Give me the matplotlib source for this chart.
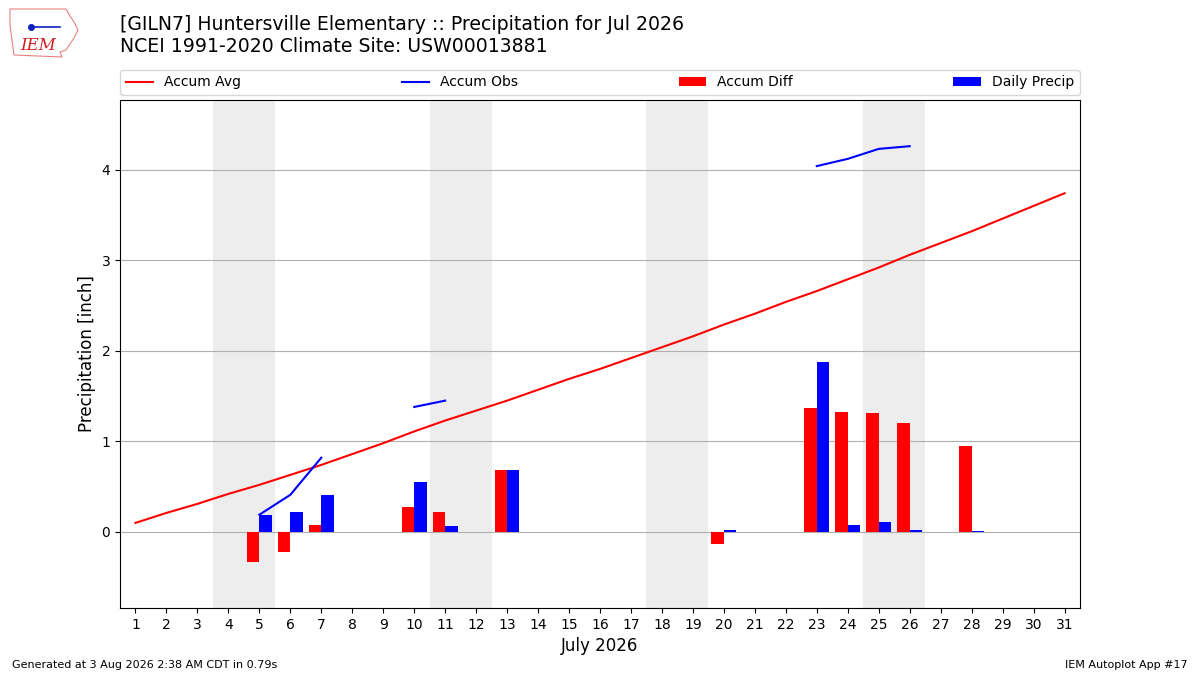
import numpy as np
import matplotlib
matplotlib.use("Agg")
import matplotlib.pyplot as plt
from matplotlib.patches import Polygon

days = list(range(1, 32))
accum_avg = [0.10, 0.21, 0.31, 0.42, 0.52, 0.63, 0.74, 0.86, 0.98, 1.11,
             1.23, 1.34, 1.45, 1.57, 1.69, 1.80, 1.92, 2.04, 2.16, 2.29,
             2.41, 2.54, 2.66, 2.79, 2.92, 3.06, 3.19, 3.32, 3.46, 3.60, 3.74]
nan = float("nan")
accum_obs = [nan, nan, nan, nan, 0.19, 0.41, 0.82, nan, nan, 1.38,
             1.45, nan, nan, nan, nan, nan, nan, nan, nan, nan,
             nan, nan, 4.04, 4.12, 4.23, 4.26, nan, nan, nan, nan, nan]
diff_days = [5, 6, 7, 10, 11, 13, 20, 23, 24, 25, 26, 28]
accum_diff = [-0.33, -0.22, 0.08, 0.27, 0.22, 0.68, -0.13, 1.37, 1.33, 1.31, 1.20, 0.95]
precip_days = [5, 6, 7, 10, 11, 13, 20, 23, 24, 25, 26, 28]
daily_precip = [0.19, 0.22, 0.41, 0.55, 0.07, 0.68, 0.02, 1.88, 0.08, 0.11, 0.02, 0.01]
weekends = [(4, 5), (11, 12), (18, 19), (25, 26)]

fig = plt.figure(figsize=(12, 6.75), dpi=100)
ax = fig.add_axes([0.1, 1 - 608 / 675, 0.8, 508 / 675])

for a, b in weekends:
    ax.axvspan(a - 0.5, b + 0.5, color="#ededed", zorder=0, lw=0)

ax.plot(days, accum_avg, color="r", lw=1.5, label="Accum Avg", zorder=3)
ax.plot(days, accum_obs, color="b", lw=1.5, label="Accum Obs", zorder=3)
ax.bar(diff_days, accum_diff, width=-0.4, align="edge", color="r", label="Accum Diff", zorder=2)
ax.bar(precip_days, daily_precip, width=0.4, align="edge", color="b", label="Daily Precip", zorder=2)

ax.set_xlim(0.5, 31.5)
ax.set_ylim(-0.84, 4.77)
ax.set_xticks(days)
ax.set_xticklabels([str(d) for d in days])
ax.set_yticks([0, 1, 2, 3, 4])
ax.yaxis.grid(True, color="#b0b0b0", lw=0.8)
ax.set_axisbelow(True)
ax.tick_params(labelsize=10)
ax.set_xlabel("July 2026", fontsize=12)
ax.set_ylabel("Precipitation [inch]", fontsize=12)

ax.legend(loc="lower left", bbox_to_anchor=(0, 1.01, 1, 0.05), mode="expand",
          ncol=4, fontsize=10, borderaxespad=0, handlelength=2.0)

fig.text(120 / 1200, 1 - 24 / 675, "[GILN7] Huntersville Elementary :: Precipitation for Jul 2026",
         fontsize=13.6, va="center", ha="left")
fig.text(120 / 1200, 1 - 47 / 675, "NCEI 1991-2020 Climate Site: USW00013881",
         fontsize=13.6, va="center", ha="left")

# logo approximation (Iowa outline + IEM)
outline_px = [(10, 9), (66, 9), (70, 16), (74, 22), (78, 30), (74, 38), (70, 44),
              (66, 50), (60, 52), (62, 57), (14, 55), (12, 40), (10, 25)]
poly = Polygon([(x / 1200, 1 - y / 675) for x, y in outline_px], closed=True,
               transform=fig.transFigure, fill=False, edgecolor="#e88080", lw=0.8)
fig.patches.append(poly)
fig.text(38 / 1200, 1 - 45 / 675, "IEM", color="#d02020", fontsize=12, family="serif",
         style="italic", ha="center", va="center")
fig.lines.append(plt.Line2D([30 / 1200, 60 / 1200], [1 - 27 / 675, 1 - 27 / 675],
                            transform=fig.transFigure, color="#1020c0", lw=1.2))
fig.lines.append(plt.Line2D([31 / 1200], [1 - 27 / 675], transform=fig.transFigure,
                            color="#1020c0", marker="o", ms=4))

fig.text(12 / 1200, 1 - 665 / 675, "Generated at 3 Aug 2026 2:38 AM CDT in 0.79s",
         fontsize=8, ha="left", va="center")
fig.text(1188 / 1200, 1 - 665 / 675, "IEM Autoplot App #17",
         fontsize=8, ha="right", va="center")

fig.savefig("out.png", dpi=100)
